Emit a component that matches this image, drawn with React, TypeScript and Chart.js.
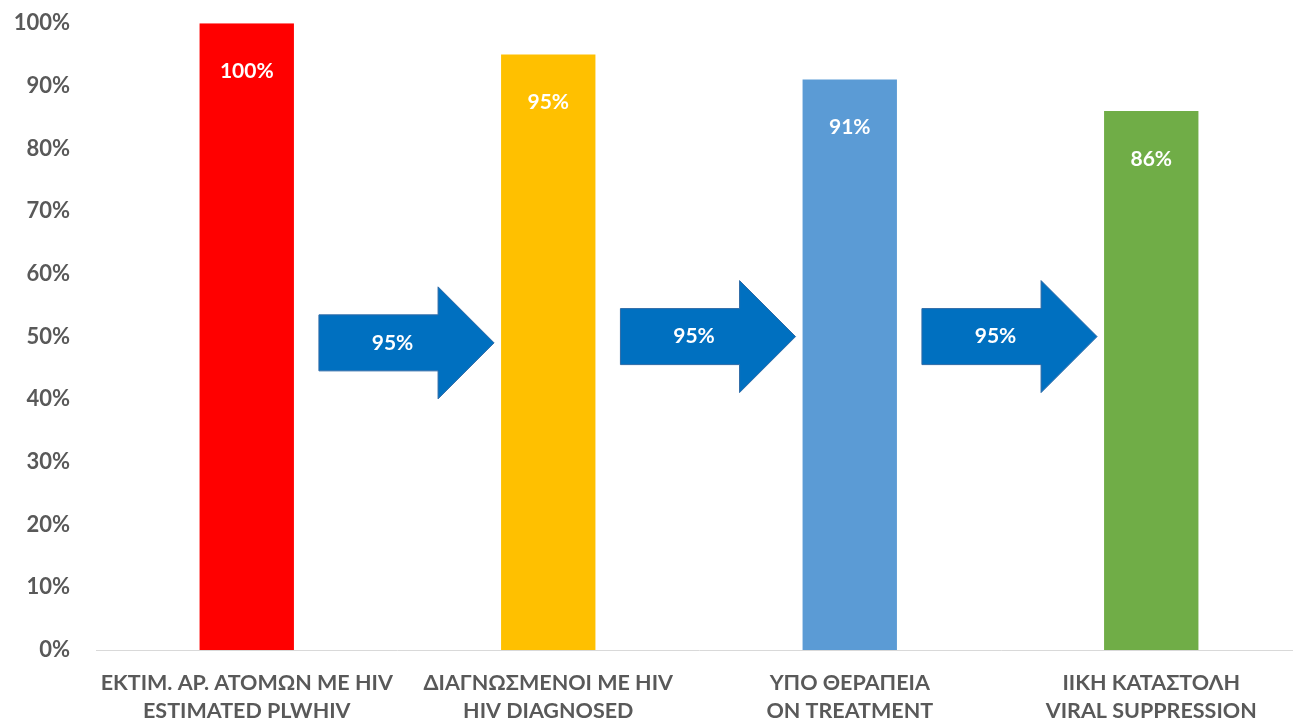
import React, { useEffect, useRef } from "react";
import Chart from "chart.js/auto";

const categories: string[][] = [
  ["ΕΚΤΙΜ. ΑΡ. ΑΤΟΜΩΝ ΜΕ ΗΙV", "ESTIMATED PLWHIV"],
  ["ΔΙΑΓΝΩΣΜΕΝΟΙ ΜΕ ΗΙV", "HIV DIAGNOSED"],
  ["ΥΠΟ ΘΕΡΑΠΕΙΑ", "ON TREATMENT"],
  ["ΙΙΚΗ ΚΑΤΑΣΤΟΛΗ", "VIRAL SUPPRESSION"],
];
const values: number[] = [100, 95, 91, 86];
const barColors: string[] = ["#FF0000", "#FFC000", "#5B9BD5", "#70AD47"];
const arrowLabels: string[] = ["95%", "95%", "95%"];
const arrowLevels: number[] = [49, 50, 50];

const FONT = "Lato";
const TEXT = "#595959";

const overlayPlugin = {
  id: "overlay",
  afterDatasetsDraw(chart: any) {
    const ctx = chart.ctx;
    const meta = chart.getDatasetMeta(0);
    const yScale = chart.scales.y;
    ctx.save();
    ctx.font = `bold 21px ${FONT}`;
    ctx.textAlign = "center";
    ctx.textBaseline = "middle";
    meta.data.forEach((bar: any, i: number) => {
      ctx.fillStyle = "#FFFFFF";
      ctx.fillText(values[i] + "%", bar.x, bar.y + 48);
    });
    arrowLabels.forEach((lab, i) => {
      const a = meta.data[i];
      const b = meta.data[i + 1];
      const x0 = a.x + a.width / 2 + 25;
      const x1 = b.x - b.width / 2 - 7;
      const cy = yScale.getPixelForValue(arrowLevels[i]);
      const headLen = 56;
      const bodyHalf = 28;
      const headHalf = 56;
      const xh = x1 - headLen;
      ctx.beginPath();
      ctx.moveTo(x0, cy - bodyHalf);
      ctx.lineTo(xh, cy - bodyHalf);
      ctx.lineTo(xh, cy - headHalf);
      ctx.lineTo(x1, cy);
      ctx.lineTo(xh, cy + headHalf);
      ctx.lineTo(xh, cy + bodyHalf);
      ctx.lineTo(x0, cy + bodyHalf);
      ctx.closePath();
      ctx.fillStyle = "#0070C0";
      ctx.fill();
      ctx.strokeStyle = "#2E6AA6";
      ctx.lineWidth = 1;
      ctx.stroke();
      ctx.fillStyle = "#FFFFFF";
      ctx.fillText(lab, (x0 + x1) / 2 - 14, cy);
    });
    ctx.restore();
  },
};

export default function App() {
  const canvasRef = useRef<HTMLCanvasElement | null>(null);

  useEffect(() => {
    document.body.style.margin = "0";
    document.body.style.overflow = "hidden";
    const canvas = canvasRef.current;
    if (!canvas) return;
    const chart = new Chart(canvas, {
      type: "bar",
      data: {
        labels: categories,
        datasets: [
          {
            data: values,
            backgroundColor: barColors,
            borderWidth: 0,
            categoryPercentage: 1,
            barPercentage: 0.313,
          },
        ],
      },
      options: {
        animation: false,
        responsive: false,
        maintainAspectRatio: false,
        devicePixelRatio: 1,
        layout: { padding: { top: 10, left: 0, right: 0, bottom: 0 } },
        plugins: {
          legend: { display: false },
          tooltip: { enabled: false },
        },
        scales: {
          x: {
            grid: { display: false, drawTicks: false },
            border: { display: true, color: "#D9D9D9", width: 1 },
            ticks: {
              color: TEXT,
              font: { family: FONT, size: 21.5, weight: "bold", lineHeight: 1.26 },
              padding: 20,
              maxRotation: 0,
              autoSkip: false,
            },
            afterFit(scale: any) {
              scale.height = 69;
            },
          },
          y: {
            min: 0,
            max: 100,
            grid: { display: false, drawTicks: false },
            border: { display: false },
            ticks: {
              stepSize: 10,
              color: TEXT,
              font: { family: FONT, size: 22, weight: "bold" },
              padding: 26,
              callback: (v: any) => v + "%",
            },
            afterFit(scale: any) {
              scale.width = 96;
            },
          },
        },
      },
      plugins: [overlayPlugin],
    } as any);
    return () => chart.destroy();
  }, []);

  return (
    <div style={{ position: "fixed", left: 0, top: -16, width: 1302, height: 735, background: "#fff" }}>
      <canvas ref={canvasRef} width={1302} height={735} style={{ display: "block" }} />
    </div>
  );
}
